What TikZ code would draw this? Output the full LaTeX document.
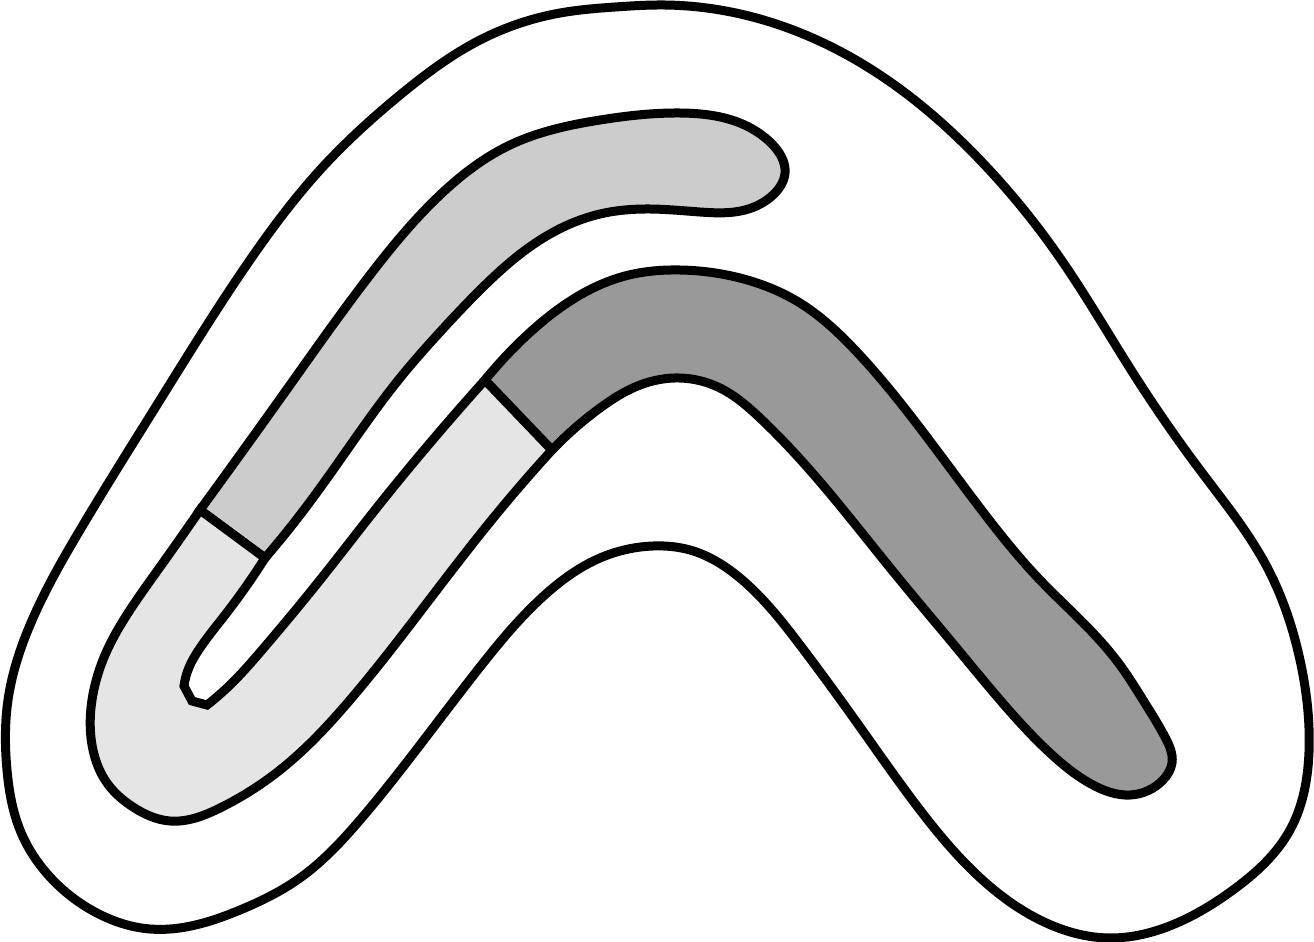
\documentclass[tikz,border=0pt]{standalone}
\usepackage{tikz}
\usetikzlibrary{hobby}
\tikzset{%
  outline/.style={%
    draw=black,%
    fill=white,%
    line width=4.5pt,%
    line join=round,%
    use Hobby shortcut,%
    closed=true,%
  },
  band/.style={%
    draw=black,%
    line width=4.5pt,%
    line join=miter,%
    use Hobby shortcut,%
  },
  lightband/.style={band, fill=black!20},
  paleband/.style={band, fill=black!10},
  darkband/.style={band, fill=black!40},
}
\begin{document}
\begin{tikzpicture}[x=0.5pt, y=-0.5pt]

    \useasboundingbox (0,0) rectangle (1314,942);

    % outer boundary
    \draw [outline]
      (665,5) .. (760,19) .. (880,75) .. (980,160) .. (1060,258)
      .. (1133,373) .. (1200,470) .. (1267,567) .. (1300,660)
      .. (1309,752) .. (1290,830) .. (1233,890) .. (1167,927)
      .. (1110,938) .. (1040,920) .. (975,873) .. (920,810)
      .. (860,727) .. (800,645) .. (740,578) .. (690,550) .. (653,546)
      .. (600,558) .. (547,593) .. (480,667) .. (420,745) .. (360,820)
      .. (300,878) .. (240,910) .. (150,929) .. (95,912) .. (50,877)
      .. (20,830) .. (7,770) .. (8,700) .. (30,625) .. (80,530)
      .. (160,400) .. (250,260) .. (320,170) .. (400,95) .. (480,40)
      .. (560,13) .. (615,7);

    % upper band
    \draw [lightband]
      (200,510) .. (290,385) .. (370,275) .. (440,195) .. (510,145)
      .. (600,120) .. (680,113) .. (740,123) .. (772,144) .. (785,173)
      .. (773,195) .. (745,210) .. (700,212) .. (650,209) .. (600,214)
      .. (540,240) .. (480,290) .. (440,332) .. (400,378) .. (340,460)
      .. (300,515) .. (265,558)
      -- cycle;

    % lower left bend
    \draw [paleband]
      (485,380) .. (430,443) .. (375,510) .. (320,580) .. (262,650)
      .. (230,685) .. (207,705)
      -- (192,701)
      -- (184,686) .. (188,670) .. (200,648) .. (225,615) .. (265,558)
      -- (200,510) .. (160,567) .. (130,610) .. (105,655) .. (92,700)
      .. (93,750) .. (107,783) .. (133,807) .. (170,821) .. (220,808)
      .. (280,770) .. (350,700) .. (420,612) .. (490,522) .. (552,450)
      -- cycle;

    % right band
    \draw [darkband]
      (485,380) .. (525,337) .. (575,298) .. (625,276) .. (680,270)
      .. (740,278) .. (800,303) .. (855,350) .. (920,428) .. (980,508)
      .. (1040,580) .. (1093,633) .. (1120,665) .. (1143,700)
      .. (1165,737) .. (1172,763) .. (1163,780) .. (1130,795)
      .. (1093,785) .. (1050,753) .. (1000,700) .. (950,640)
      .. (900,580) .. (760,418) .. (720,388) .. (680,378)
      .. (640,385) .. (600,408) .. (552,450)
      -- cycle;

  \end{tikzpicture}
\end{document}
